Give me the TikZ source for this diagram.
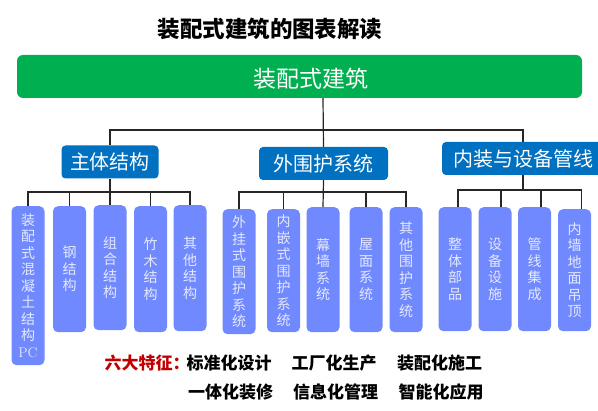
\documentclass[tikz,border=0pt]{standalone}
\usepackage{fontspec}
\newfontfamily\cjk{Noto Sans CJK SC}
\definecolor{rootgreen}{HTML}{00B050}
\definecolor{secblue}{HTML}{0070C0}
\definecolor{leafblue}{HTML}{7189FF}
\definecolor{leaftext}{HTML}{E4E9FF}
\definecolor{featred}{HTML}{C00000}
\begin{document}
\begin{tikzpicture}[
x = 1pt, y = -1pt,
link/.style = {draw=black!85, line width=1.2pt},
rootbox/.style = {fill=rootgreen, rounded corners=6pt, minimum width=565pt, minimum height=43pt, inner sep=0pt},
rootlabel/.style = {text=white, font=\cjk\fontsize{23}{26}\selectfont, inner sep=0pt},
secbox/.style = {fill=secblue, rounded corners=4pt, text=white, minimum height=33pt, inner sep=0pt, font=\cjk\fontsize{20}{22}\selectfont},
leafbox/.style = {fill=leafblue, rounded corners=5pt, text=leaftext, anchor=north, minimum width=33pt, inner sep=0pt, align=center, font=\cjk\fontsize{14}{16.5}\selectfont},
headline/.style = {font=\cjk\bfseries\fontsize{22.5}{25}\selectfont, inner sep=0pt},
featitem/.style = {font=\cjk\bfseries\fontsize{17}{19}\selectfont, inner sep=0pt},
]
\useasboundingbox (0,0) rectangle (598,411);

\node [headline] (title) at (270,29) {装配式建筑的图表解读};
\node [rootbox, label={[rootlabel, xshift=11pt, yshift=-2pt]center:装配式建筑}] (root) at (299.5,76.5) {};

\node [secbox, minimum width=97pt] (sys1) at (110,162) {主体结构};
\node [secbox, minimum width=129pt] (sys2) at (323.5,163.5) {外围护系统};
\node [secbox, minimum width=162pt] (sys3) at (523,158.5) {内装与设备管线};

\node [leafbox, minimum height=159pt] (l11) at (28,206) {装\\配\\式\\混\\凝\\土\\结\\构\\{\rmfamily PC}};
\node [leafbox, minimum height=126pt] (l12) at (69.5,206) {钢\\结\\构};
\node [leafbox, minimum height=125pt] (l13) at (110,205) {组\\合\\结\\构};
\node [leafbox, minimum height=126pt] (l14) at (150.5,206) {竹\\木\\结\\构};
\node [leafbox, minimum height=126pt] (l15) at (190,205) {其\\他\\结\\构};

\node [leafbox, minimum height=125pt] (l21) at (239,209) {外\\挂\\式\\围\\护\\系\\统};
\node [leafbox, minimum height=123pt] (l22) at (283.5,209) {内\\嵌\\式\\围\\护\\系\\统};
\node [leafbox, minimum height=125pt] (l23) at (323,207) {幕\\墙\\系\\统};
\node [leafbox, minimum height=125pt] (l24) at (366,207) {屋\\面\\系\\统};
\node [leafbox, minimum height=125pt] (l25) at (406,207) {其\\他\\围\\护\\系\\统};

\node [leafbox, minimum height=124pt] (l31) at (455,207) {整\\体\\部\\品};
\node [leafbox, minimum height=124pt] (l32) at (495,207) {设\\备\\设\\施};
\node [leafbox, minimum height=124pt] (l33) at (534.5,207) {管\\线\\集\\成};
\node [leafbox, minimum height=122pt] (l34) at (574.5,209) {内\\墙\\地\\面\\吊\\顶};

\node [featitem, text=featred] (feat) at (147,363) {六大特征：};
\node [featitem] (f1) at (229,363) {标准化设计};
\node [featitem] (f2) at (334,363) {工厂化生产};
\node [featitem] (f3) at (439.5,363) {装配化施工};
\node [featitem] (f4) at (230.5,392) {一体化装修};
\node [featitem] (f5) at (335.5,392) {信息化管理};
\node [featitem] (f6) at (441,392) {智能化应用};

\coordinate (b0) at (323,130);
\coordinate (b1) at (110,192);
\coordinate (b2) at (323,192);
\coordinate (b3) at (523,190);

\path[link] (root.south -| b0) -- (sys2.north);
\path[link] (sys1.north) |- (b0) -| (sys3.north);

\path[link] (sys1.south) -- (b1);
\path[link] (l11.north) |- (b1) -| (l15.north);
\path[link] (l12.north) -- (l12.north |- b1);
\path[link] (l13.north) -- (b1);
\path[link] (l14.north) -- (l14.north |- b1);

\path[link] (sys2.south) -- (l23.north);
\path[link] (l21.north) |- (b2) -| (l25.north);
\path[link] (l22.north) -- (l22.north |- b2);
\path[link] (l24.north) -- (l24.north |- b2);

\path[link] (sys3.south) -- (b3);
\path[link] ([xshift=3pt]l31.north) |- (b3) -| ([xshift=7pt]l34.north);
\path[link] ([xshift=6pt]l32.north) -- ([xshift=6pt]l32.north |- b3);
\path[link] ([xshift=6.5pt]l33.north) -- ([xshift=6.5pt]l33.north |- b3);

\end{tikzpicture}
\end{document}
